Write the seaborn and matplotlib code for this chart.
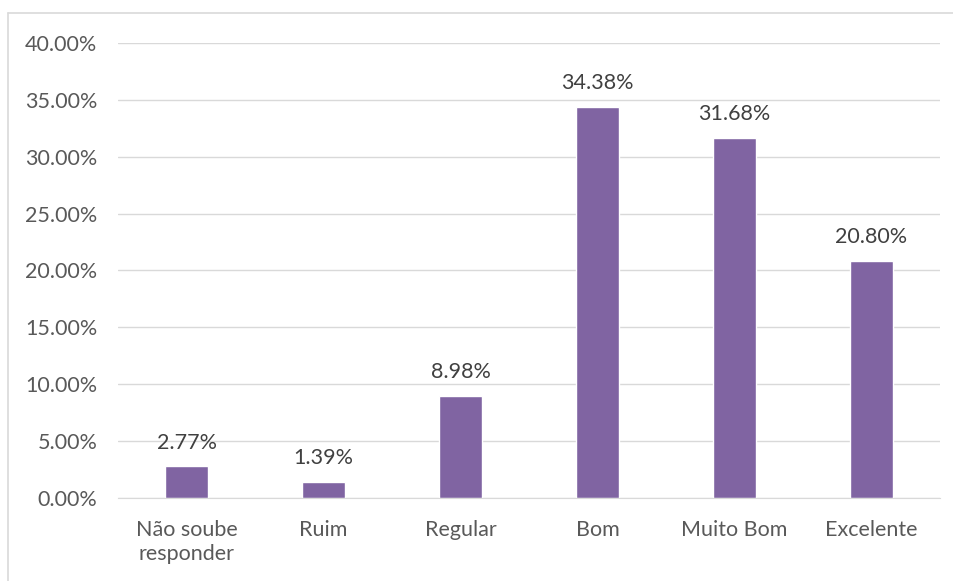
import matplotlib.pyplot as plt
import seaborn as sns
import pandas as pd
from matplotlib.lines import Line2D
from matplotlib.ticker import PercentFormatter

# Dados
categorias = ['Não soube\nresponder', 'Ruim', 'Regular', 'Bom', 'Muito Bom', 'Excelente']
valores = [2.77, 1.39, 8.98, 34.38, 31.68, 20.80]

df = pd.DataFrame({'categoria': categorias, 'valor': valores})

sns.set_style('white')
plt.rcParams['font.family'] = ['Lato', 'DejaVu Sans']

fig = plt.figure(figsize=(9.54, 5.81), dpi=100)
ax = fig.add_axes([0.1237, 0.1429, 0.8616, 0.7831])

sns.barplot(x='categoria', y='valor', data=df, color='#8064A2', width=0.31,
            saturation=1, ax=ax)

ax.set_ylim(0, 40)
ax.set_yticks(range(0, 41, 5))
ax.yaxis.set_major_formatter(PercentFormatter(decimals=2))
ax.yaxis.grid(True, color='#D9D9D9', linewidth=1)
ax.set_axisbelow(True)
for s in ['top', 'right', 'left']:
    ax.spines[s].set_visible(False)
ax.spines['bottom'].set_color('#D9D9D9')
ax.set_xlabel('')
ax.set_ylabel('')
ax.tick_params(axis='both', length=0, labelsize=15.5, colors='#595959')
ax.tick_params(axis='x', pad=16)
ax.tick_params(axis='y', pad=15)
for lbl in ax.get_xticklabels():
    lbl.set_linespacing(1.25)

for p, v in zip(ax.patches, valores):
    ax.annotate(f'{v:.2f}%', (p.get_x() + p.get_width() / 2, p.get_height()),
                xytext=(0, 10), textcoords='offset points', ha='center', va='bottom',
                fontsize=15.5, color='#404040')

# Borda do gráfico
fig.add_artist(Line2D([8 / 954, 8 / 954], [0, 1 - 13 / 581], color='#D9D9D9', lw=1.2))
fig.add_artist(Line2D([8 / 954, 1], [1 - 13 / 581, 1 - 13 / 581], color='#D9D9D9', lw=1.2))

fig.savefig('out.png', dpi=100)
